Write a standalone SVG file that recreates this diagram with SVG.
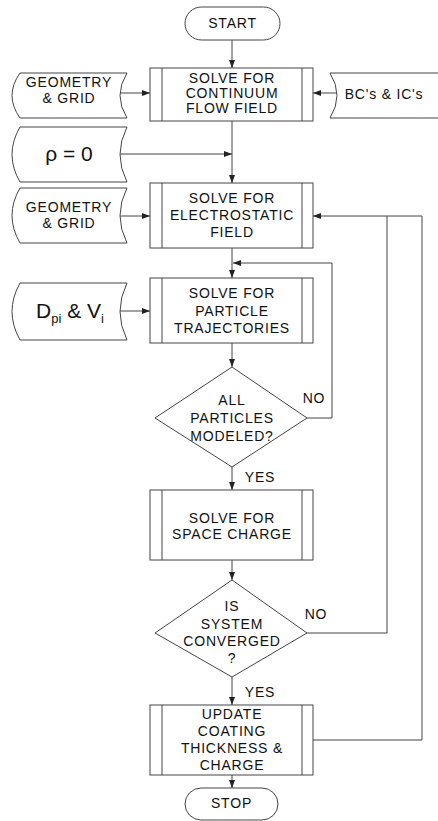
<svg xmlns="http://www.w3.org/2000/svg" width="438" height="821" viewBox="0 0 438 821">
<defs>
<marker id="ah" markerWidth="8" markerHeight="6" refX="8" refY="3" orient="auto" markerUnits="userSpaceOnUse">
<path d="M0,0 L8,3 L0,6 Z" fill="#222"/>
</marker>
</defs>
<style>
.s{fill:#fff;stroke:#444;stroke-width:1}
.c{fill:none;stroke:#444;stroke-width:1;marker-end:url(#ah)}
.l{fill:none;stroke:#444;stroke-width:1}
text{font-family:"Liberation Sans",Arial,sans-serif;font-size:14px;fill:#111;letter-spacing:0.8px;text-anchor:middle}
.big{font-size:21px;letter-spacing:0}
.sub{font-size:13px;letter-spacing:0}
</style>
<rect width="438" height="821" fill="#fff"/>
<g id="connectors">
<path class="c" d="M232,40 V68"/>
<path class="c" d="M120,93 H150"/>
<path class="c" d="M337,93 H313"/>
<path class="c" d="M232,121 V183"/>
<path class="c" d="M120,154 H232"/>
<path class="c" d="M120,216 H150"/>
<path class="c" d="M232,248 V278"/>
<path class="c" d="M120,311 H150"/>
<path class="c" d="M232,343 V367"/>
<path class="c" d="M307,418 H332 V263 H233"/>
<path class="c" d="M232,467 V490"/>
<path class="c" d="M232,560 V580"/>
<path class="l" d="M307,633 H387 V216"/>
<path class="c" d="M232,677 V705"/>
<path class="c" d="M313,740 H422 V216 H313"/>
<path class="c" d="M232,775 V788"/>
</g>
<g id="start">
<rect class="s" x="185" y="7" width="95" height="33" rx="16.5"/>
<text x="232.5" y="28">START</text>
</g>
<g id="geometry1">
<path class="s" d="M20,73 H127 Q113,95.5 127,118 H20 Q4,95.5 20,73 Z"/>
<text x="69" y="87">GEOMETRY</text>
<text x="69" y="103">&amp; GRID</text>
</g>
<g id="bcic">
<path class="s" d="M330,73 H442 V118 H330 Q344,95.5 330,73 Z"/>
<text x="384" y="98.5">BC's &amp; IC's</text>
</g>
<g id="continuum">
<rect class="s" x="150" y="68" width="163" height="53"/>
<path class="l" d="M162,68 V121 M302,68 V121"/>
<text x="232" y="82.5">SOLVE FOR</text>
<text x="232" y="97.5">CONTINUUM</text>
<text x="232" y="112.5">FLOW FIELD</text>
</g>
<g id="rho">
<path class="s" d="M20,127 H127 Q113,154.5 127,182 H20 Q4,154.5 20,127 Z"/>
<text class="big" x="69" y="161">ρ = 0</text>
</g>
<g id="geometry2">
<path class="s" d="M20,188 H127 Q113,215.5 127,243 H20 Q4,215.5 20,188 Z"/>
<text x="69" y="212">GEOMETRY</text>
<text x="69" y="228">&amp; GRID</text>
</g>
<g id="electrostatic">
<rect class="s" x="150" y="183" width="163" height="65"/>
<path class="l" d="M162,183 V248 M302,183 V248"/>
<text x="232" y="203">SOLVE FOR</text>
<text x="232" y="220">ELECTROSTATIC</text>
<text x="232" y="237">FIELD</text>
</g>
<g id="dpivi">
<path class="s" d="M20,283 H127 Q113,311.5 127,340 H20 Q4,311.5 20,283 Z"/>
<text x="70" y="318" style="letter-spacing:0;text-anchor:middle"><tspan class="big">D</tspan><tspan class="sub" dy="5">pi</tspan><tspan class="big" dy="-5"> &amp; V</tspan><tspan class="sub" dy="5">i</tspan></text>
</g>
<g id="trajectories">
<rect class="s" x="150" y="278" width="163" height="65"/>
<path class="l" d="M162,278 V343 M302,278 V343"/>
<text x="232" y="298">SOLVE FOR</text>
<text x="232" y="316">PARTICLE</text>
<text x="232" y="333">TRAJECTORIES</text>
</g>
<g id="decision1">
<polygon class="s" points="232,367 307,418 232,467 155,418"/>
<text x="232" y="405">ALL</text>
<text x="232" y="423">PARTICLES</text>
<text x="232" y="441">MODELED?</text>
<text x="314" y="403">NO</text>
<text x="260" y="482">YES</text>
</g>
<g id="spacecharge">
<rect class="s" x="150" y="490" width="163" height="70"/>
<path class="l" d="M162,490 V560 M302,490 V560"/>
<text x="232" y="522.5">SOLVE FOR</text>
<text x="232" y="539">SPACE CHARGE</text>
</g>
<g id="decision2">
<polygon class="s" points="232,580 307,633 232,677 155,633"/>
<text x="232" y="611">IS</text>
<text x="232" y="629">SYSTEM</text>
<text x="232" y="646">CONVERGED</text>
<text x="232" y="663">?</text>
<text x="316" y="619">NO</text>
<text x="260" y="697">YES</text>
</g>
<g id="update">
<rect class="s" x="150" y="705" width="163" height="70"/>
<path class="l" d="M162,705 V775 M302,705 V775"/>
<text x="232" y="719">UPDATE</text>
<text x="232" y="736">COATING</text>
<text x="232" y="753">THICKNESS &amp;</text>
<text x="232" y="770">CHARGE</text>
</g>
<g id="stop">
<rect class="s" x="185" y="788" width="93" height="32" rx="16"/>
<text x="231.5" y="808">STOP</text>
</g>
</svg>
